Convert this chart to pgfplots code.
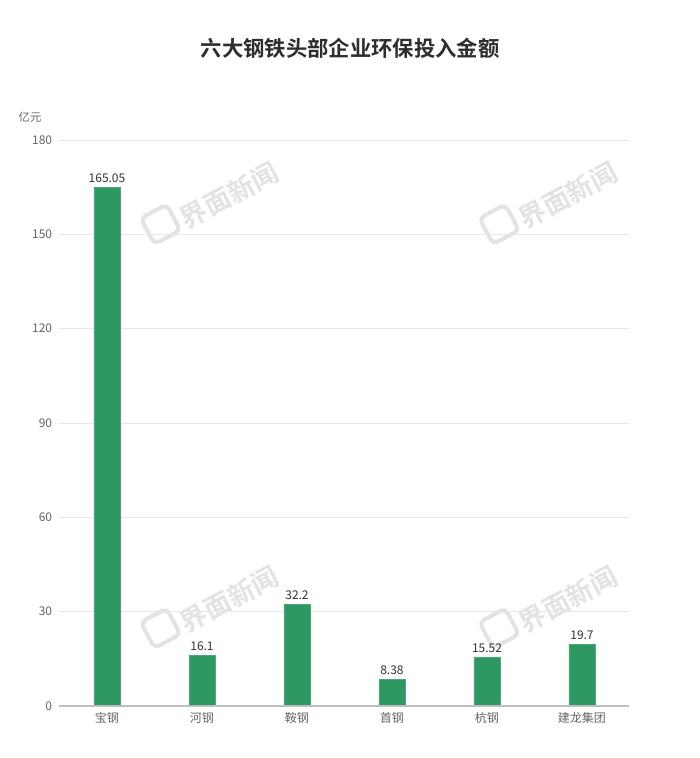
\documentclass[border=0pt]{standalone}
\usepackage{fontspec}
\setmainfont{Noto Sans CJK SC}
\newfontfamily\cjk{Noto Sans CJK SC}
\newfontfamily\cjkbold{Noto Sans CJK SC Bold}
\usepackage{pgfplots}
\usepackage{pgfplotstable}
\pgfplotsset{compat=1.18}
\definecolor{barg}{RGB}{46,152,98}
\definecolor{gridc}{RGB}{232,232,232}
\definecolor{tickc}{RGB}{102,102,102}
\pgfplotstableread{
x y lab
0 165.05 165.05
1 16.1 16.1
2 32.2 32.2
3 8.38 8.38
4 15.52 15.52
5 19.7 19.7
}\datatab
\begin{document}
\begin{tikzpicture}
\path[use as bounding box, fill=white] (-44.625pt,-39pt) rectangle (480.375pt,529.5pt);
% watermarks
\foreach \wx/\wy in {113/380, 367/380, 113/77, 367/77}{
  \node[rotate=28, text=black!11, font=\cjkbold\fontsize{20}{20}\selectfont, inner sep=0pt] at (\wx pt,\wy pt) {\tikz\draw[black!11, line width=3pt, rounded corners=4pt] (0,0) rectangle (22pt,22pt);\,界面新闻};
}
\begin{axis}[
  at={(0,0)}, anchor=south west,
  scale only axis,
  width=427.5pt, height=424.5pt,
  xmin=-0.5, xmax=5.5,
  ymin=0, ymax=180,
  ytick={0,30,60,90,120,150,180},
  xtick=data,
  xticklabels={宝钢,河钢,鞍钢,首钢,杭钢,建龙集团},
  axis line style={draw=none},
  axis x line*=bottom,
  axis y line*=left,
  major tick length=0pt,
  ymajorgrids,
  grid style={gridc, line width=0.6pt},
  tick label style={font=\fontsize{9}{10}\selectfont, text=tickc},
  /pgf/number format/assume math mode=true,
  yticklabel style={xshift=-2pt},
  xticklabel style={yshift=-1pt},
  nodes near coords,
  point meta=explicit symbolic,
  every node near coord/.append style={font=\fontsize{9}{10}\selectfont, text=black!80, yshift=0pt},
  clip=false,
]
\addplot[ybar, bar width=19.5pt, fill=barg, draw=barg!85!white, line width=0.6pt] table[x=x, y=y, meta=lab] {\datatab};
\draw[black!25, line width=1.2pt] (axis cs:-0.5,0) -- (axis cs:5.5,0);
\node[font=\fontsize{8.5}{9}\selectfont, text=tickc] at (axis cs:-0.81,187.3) {亿元};
\node[font=\cjkbold\fontsize{16}{18}\selectfont, text=black!82] at (axis cs:2.56,209.3) {六大钢铁头部企业环保投入金额};
\end{axis}
\end{tikzpicture}
\end{document}
